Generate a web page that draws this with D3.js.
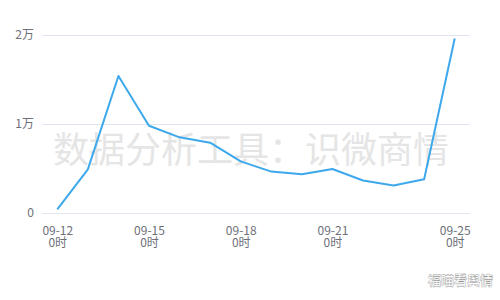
<!DOCTYPE html>
<html>
<head>
<meta charset="utf-8">
<script src="https://cdn.jsdelivr.net/npm/d3@7"></script>
<style>
    body { margin: 0; background: #fff; }
    svg { display: block; font-family: "Noto Sans CJK SC", "Liberation Sans", sans-serif; }
</style>
</head>
<body>
<div id="grafico"></div>
<script>
const dates = ["09-12", "09-13", "09-14", "09-15", "09-16", "09-17", "09-18",
    "09-19", "09-20", "09-21", "09-22", "09-23", "09-24", "09-25"];
const values = [400, 4900, 15400, 9800, 8500, 7900, 5800, 4650, 4350, 4950, 3650, 3100, 3800, 19600];
const yTicks = [0, 10000, 20000];
const yTickLabels = ["0", "1万", "2万"];
const xTickDates = ["09-12", "09-15", "09-18", "09-21", "09-25"];

const width = 500;
const height = 300;
const margin = { left: 42, right: 30, top: 35, bottom: 87 };

const svg = d3.select("#grafico")
    .append("svg")
    .attr("width", width)
    .attr("height", height);

// eje x: un punto por dia, medio paso de margen a cada lado
const xScale = d3.scalePoint()
    .domain(dates)
    .range([margin.left, width - margin.right])
    .padding(0.5);

const yScale = d3.scaleLinear()
    .domain([0, 20000])
    .range([height - margin.bottom, margin.top]);

// lineas de la rejilla
const yAxis = d3.axisLeft(yScale)
    .tickValues(yTicks)
    .tickSize(-(width - margin.left - margin.right))
    .tickPadding(8)
    .tickFormat((d, i) => yTickLabels[i]);

svg.append("g")
    .attr("transform", `translate(${margin.left}, 0)`)
    .call(yAxis)
    .call(g => g.select(".domain").remove())
    .call(g => g.selectAll("line").attr("stroke", "#e0e6f1"))
    .call(g => g.selectAll("text").attr("fill", "#6e7079").attr("font-size", 12)
        .attr("font-family", "Noto Sans CJK SC, sans-serif"));

// eje x con etiquetas de dos lineas
const xAxis = d3.axisBottom(xScale)
    .tickValues(xTickDates)
    .tickSize(0)
    .tickPadding(12)
    .tickFormat(d => d);

const gx = svg.append("g")
    .attr("transform", `translate(0, ${height - margin.bottom})`)
    .call(xAxis);
gx.select(".domain").remove();
gx.selectAll("text")
    .attr("fill", "#6e7079")
    .attr("font-size", 12)
    .attr("font-family", "Noto Sans CJK SC, sans-serif")
    .attr("dy", null)
    .text(null)
    .each(function (d) {
        const t = d3.select(this);
        t.append("tspan").attr("x", 0).attr("dy", 10).text(d);
        t.append("tspan").attr("x", 0).attr("dy", 12).text("0时");
    });

// marca de agua
svg.append("text")
    .attr("x", 251)
    .attr("y", 163)
    .attr("text-anchor", "middle")
    .attr("font-size", 36)
    .attr("fill", "#e5e5e5")
    .attr("font-family", "Noto Sans CJK SC, sans-serif")
    .text("数据分析工具：识微商情");

const line = d3.line()
    .x((d, i) => xScale(dates[i]))
    .y(d => yScale(d));

svg.append("path")
    .datum(values)
    .attr("fill", "none")
    .attr("stroke", "#3ea8ec")
    .attr("stroke-width", 2)
    .attr("stroke-linejoin", "round")
    .attr("d", line);

// firma abajo a la derecha
svg.append("text")
    .attr("x", 493)
    .attr("y", 285)
    .attr("text-anchor", "end")
    .attr("font-size", 13)
    .attr("fill", "#ffffff")
    .attr("stroke", "#9a9a9a")
    .attr("stroke-width", 0.8)
    .attr("paint-order", "stroke")
    .attr("font-family", "Noto Sans CJK SC, sans-serif")
    .text("福瞄看舆情");
</script>
</body>
</html>
